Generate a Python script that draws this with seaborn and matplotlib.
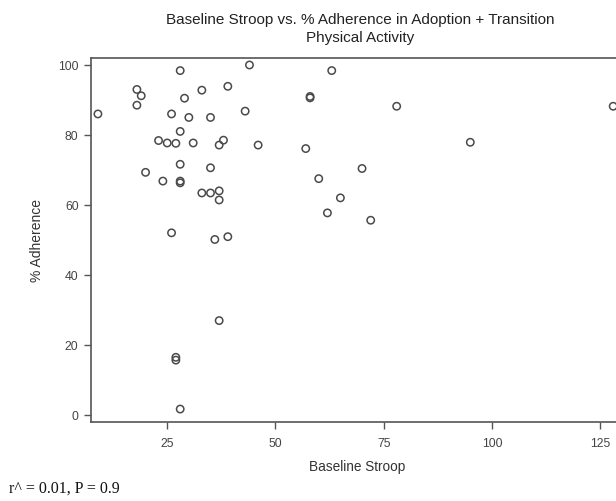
import matplotlib
matplotlib.use("Agg")
import matplotlib.pyplot as plt
import seaborn as sns
import pandas as pd

stroop = [44, 28, 18, 19, 18, 33, 39, 29, 9, 26, 30, 35, 43,
          28, 23, 25, 27, 31, 38, 37, 46, 28, 35, 20, 24, 28, 28,
          33, 35, 37, 37, 26, 36, 39,
          63, 58, 58, 78, 128, 57, 95, 70, 60, 65, 62, 72,
          27, 27, 37, 28]
adherence = [100, 98.4, 93.0, 91.2, 88.5, 92.8, 93.9, 90.5, 86.0, 86.0, 85.0, 85.0, 86.8,
             81.0, 78.4, 77.7, 77.6, 77.7, 78.5, 77.1, 77.1, 71.6, 70.6, 69.3, 66.8, 66.3, 66.8,
             63.4, 63.4, 64.0, 61.4, 52.0, 50.1, 50.9,
             98.4, 90.6, 91.0, 88.2, 88.2, 76.1, 77.9, 70.4, 67.5, 62.0, 57.7, 55.6,
             16.4, 15.6, 26.9, 1.6]

df = pd.DataFrame({"Baseline Stroop": stroop, "% Adherence": adherence})

sns.set_style("white")
plt.rcParams['font.family'] = ['Liberation Sans', 'DejaVu Sans']

W, H = 616, 502
fig = plt.figure(figsize=(W / 100, H / 100), dpi=100)
left, right, top, bottom = 91, 624, 59, 423
ax = fig.add_axes([left / W, 1 - bottom / H, (right - left) / W, (bottom - top) / H])

sns.scatterplot(data=df, x="Baseline Stroop", y="% Adherence", ax=ax,
                marker="o", s=28, facecolor="none", edgecolor="#4a4a4a",
                linewidth=1.1, legend=False)

ax.set_xlim(7.4, 130.5)
ax.set_ylim(-2.1, 102)
ax.set_xticks([25, 50, 75, 100, 125])
ax.set_yticks([0, 20, 40, 60, 80, 100])

for sp in ax.spines.values():
    sp.set_color("#555555")
    sp.set_linewidth(1.2)
    sp.set_visible(True)
ax.tick_params(axis="both", which="major", direction="out", length=5, width=1,
               color="#555555", labelcolor="#444444", labelsize=8.8, pad=4,
               bottom=True, left=True)
ax.tick_params(axis="x", pad=6)

ax.set_xlabel("Baseline Stroop", fontsize=9.8, color="#333333", labelpad=7)
ax.set_ylabel("% Adherence", fontsize=10, color="#333333", labelpad=10)

fig.text(360 / W, 1 - 29 / H,
         "Baseline Stroop vs. % Adherence in Adoption + Transition\nPhysical Activity",
         ha="center", va="center", fontsize=11, color="#222222", linespacing=1.35)

fig.text(9 / W, 1 - 489 / H, "r^ = 0.01, P = 0.9", ha="left", va="center",
         fontsize=11.5, family=["Liberation Serif", "DejaVu Serif"], color="#111111")

fig.savefig("out.png", dpi=100)
